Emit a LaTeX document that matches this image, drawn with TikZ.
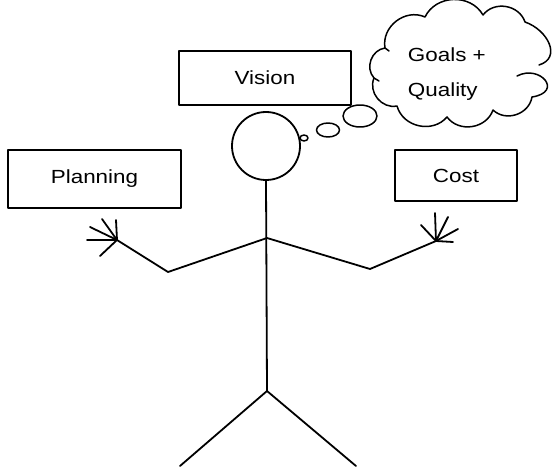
\documentclass[tikz,border=0pt]{standalone}
\usepackage{fontspec}
\setmainfont{Liberation Sans}[FakeStretch=1.18]
\usetikzlibrary{shapes.geometric}
\begin{document}
\begin{tikzpicture}[x=1pt,y=-1pt,line width=1.8pt,line join=round,line cap=round,
  labelbox/.style={draw,rectangle,inner sep=0pt,font=\fontsize{19}{22}\selectfont},
  bubble/.style={draw,ellipse,inner sep=0pt,line width=1.5pt},
  puff/.style={bend left=62,looseness=1.1}]
\useasboundingbox (0,0) rectangle (552,468);

% labelled boxes
\node[labelbox,minimum width=173pt,minimum height=58pt] (planning) at (94.5,179) {Planning};
\node[labelbox,minimum width=172pt,minimum height=54pt] (vision) at (265,78) {Vision};
\node[labelbox,minimum width=122pt,minimum height=51pt] (cost) at (456,175.5) {Cost};

% head and thought bubbles
\node[draw,circle,minimum size=68pt,inner sep=0pt] (head) at (266,146) {};
\node[bubble,minimum width=8pt,minimum height=6pt] (b1) at (304,138) {};
\node[bubble,minimum width=23pt,minimum height=14pt] (b2) at (328,130) {};
\node[bubble,minimum width=34pt,minimum height=22pt] (b3) at (360,116) {};

% thought cloud: a ring of puffs, the lower right one hooked inside
\coordinate (c1) at (385,48);
\coordinate (c2) at (425,17);
\coordinate (c3) at (483,15);
\coordinate (c4) at (525,22);
\coordinate (c5) at (539,65);
\coordinate (hook) at (517,76);
\coordinate (c6) at (532,97);
\coordinate (c7) at (493,110);
\coordinate (c8) at (447,117);
\coordinate (c9) at (397,106);
\coordinate (c10) at (374,78);
\begin{scope}[line width=1.5pt]
\draw (c1) to[puff] (c2) to[puff] (c3) to[puff] (c4)
  .. controls (548,30) and (562,58) .. (c5);
\draw (hook) .. controls (540,64) and (564,92) .. (c6)
  to[puff] (c7) to[puff] (c8) to[puff] (c9) to[puff] (c10) to[puff] (c1) -- ++(4,3);
\draw (c10) -- ++(5,3);
\end{scope}
\node[align=left,anchor=base west,inner sep=0pt,font=\fontsize{19}{35}\selectfont] (thought) at (407,97) {Goals +\\Quality};

% stick figure
\coordinate (shoulder) at (267,238);
\coordinate (hip) at (267,391);
\coordinate (lelbow) at (168,272);
\coordinate (relbow) at (370,269);
\coordinate (lhand) at (117,240);
\coordinate (rhand) at (436,241);
\coordinate (lfoot) at (180,466);
\coordinate (rfoot) at (356,466);
\draw (head.south) -- (hip);
\draw (lhand) -- (lelbow) -- (shoulder) -- (relbow) -- (rhand);
\draw (lfoot) -- (hip) -- (rfoot);

% fingers
\foreach \p in {(102,219),(116,220),(90,227),(87,240),(100,256)}
  \draw (lhand) -- \p;
\foreach \p in {(435,213),(448,217),(458,229),(453,242),(421,225)}
  \draw (rhand) -- \p;
\end{tikzpicture}
\end{document}
